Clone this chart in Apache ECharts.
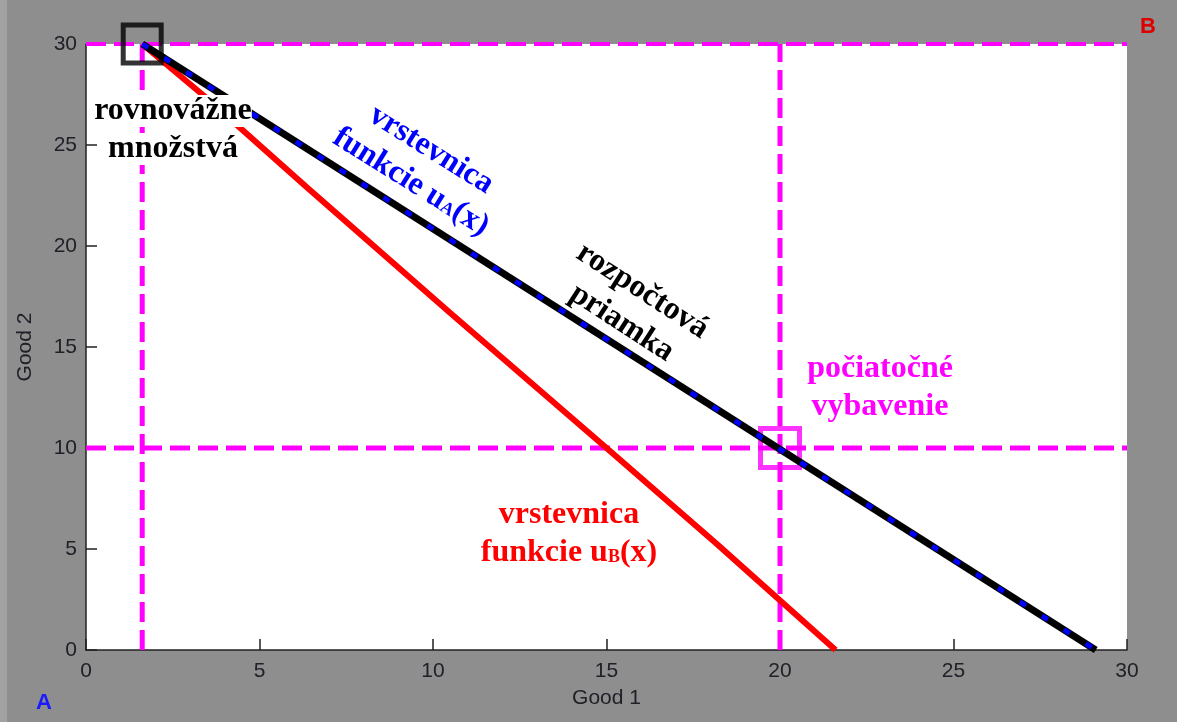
<!DOCTYPE html>
<html><head><meta charset="utf-8">
<script src="https://cdn.jsdelivr.net/npm/echarts@6/dist/echarts.min.js"></script>
<style>html,body{margin:0;padding:0;background:#8e8e8e;}#c{width:1177px;height:722px;}</style>
</head><body><div id="c"></div>
<script>
// ---- data ----
const axisMin = 0, axisMax = 30, axisStep = 5;
const budgetX = [1.62, 29.1];
const budgetY = [30, 0];
const indifA_X = [1.62, 29.1];
const indifA_Y = [30, 0];
const indifB_X = [1.62, 3.49, 6.37, 10.49, 15.0, 18.18, 21.6];
const indifB_Y = [30, 27.3, 22.9, 16.7, 10.0, 5.25, 0];
const equilibrium = [1.62, 30];
const endowment = [20, 10];

const zip = (xs, ys) => xs.map((x, i) => [x, ys[i]]);
const vline = (x) => [[x, axisMin], [x, axisMax]];
const hline = (y) => [[axisMin, y], [axisMax, y]];

const chart = echarts.init(document.getElementById('c'), null, {renderer: 'canvas'});
const tickFont = {fontFamily: '"Liberation Sans", Arial, sans-serif', fontSize: 21, color: '#202028'};
const magenta = '#ff00ff';
const dashMag = {color: magenta, width: 5, type: [20, 8]};
const serif = '"Liberation Serif", "Times New Roman", serif';
const FS = 32, LH = 38;

chart.setOption({
  backgroundColor: '#8e8e8e',
  animation: false,
  grid: {left: 86, right: 50, top: 44, bottom: 72, show: true, backgroundColor: '#ffffff', borderWidth: 0},
  xAxis: {
    type: 'value', min: axisMin, max: axisMax, interval: axisStep,
    name: 'Good 1', nameLocation: 'middle', nameGap: 38, nameTextStyle: tickFont,
    axisLine: {show: true, lineStyle: {color: '#222', width: 1.5}},
    axisTick: {show: true, inside: true, length: 11, lineStyle: {color: '#222', width: 1.5}},
    axisLabel: Object.assign({margin: 11}, tickFont),
    splitLine: {show: false}
  },
  yAxis: {
    type: 'value', min: axisMin, max: axisMax, interval: axisStep,
    name: 'Good 2', nameLocation: 'middle', nameGap: 50, nameTextStyle: tickFont,
    axisLine: {show: true, lineStyle: {color: '#222', width: 1.5}},
    axisTick: {show: true, inside: true, length: 11, lineStyle: {color: '#222', width: 1.5}},
    axisLabel: Object.assign({margin: 9}, tickFont),
    splitLine: {show: false}
  },
  series: [
    {type: 'line', data: vline(equilibrium[0]), symbol: 'none', lineStyle: dashMag, z: 2},
    {type: 'line', data: hline(equilibrium[1]), symbol: 'none', lineStyle: {color: magenta, width: 4, type: [20, 8]}, clip: false, z: 2},
    {type: 'line', data: vline(endowment[0]), symbol: 'none', lineStyle: dashMag, z: 2},
    {type: 'line', data: hline(endowment[1]), symbol: 'none', lineStyle: dashMag, z: 2},
    {type: 'scatter', data: [endowment], symbol: 'rect', symbolSize: 39, clip: false,
      itemStyle: {color: 'rgba(0,0,0,0)', borderColor: magenta, borderWidth: 5}, z: 3},
    {type: 'line', data: zip(indifB_X, indifB_Y), symbol: 'none', lineStyle: {color: '#ff0000', width: 6}, z: 4},
    {type: 'line', data: zip(budgetX, budgetY), symbol: 'none', lineStyle: {color: '#000000', width: 7}, z: 5},
    {type: 'line', data: zip(indifA_X, indifA_Y), symbol: 'none', lineStyle: {color: '#0000ff', width: 5, type: [7, 19]}, z: 6},
    {type: 'scatter', data: [equilibrium], symbol: 'rect', symbolSize: 38, clip: false,
      itemStyle: {color: 'rgba(0,0,0,0)', borderColor: '#000000', borderWidth: 5}, z: 7}
  ],
  graphic: [
    {type: 'rect', shape: {x: 0, y: 0, width: 7, height: 722}, style: {fill: '#a2a2a2'}, z: 0, silent: true},
    {type: 'text', x: 44, y: 703, style: {text: 'A', fill: '#1a1aff', font: 'bold 22px "Liberation Sans", Arial, sans-serif', align: 'center', verticalAlign: 'middle'}, z: 100},
    {type: 'text', x: 1148, y: 27, style: {text: 'B', fill: '#dd0000', font: 'bold 22px "Liberation Sans", Arial, sans-serif', align: 'center', verticalAlign: 'middle'}, z: 100},
    {type: 'text', x: 173, y: 130, z: 100, style: {
      text: '{a|rovnovážne}\n{a|množstvá}', align: 'center', verticalAlign: 'middle',
      rich: {a: {fill: '#000', fontFamily: serif, fontWeight: 'bold', fontSize: FS, lineHeight: LH, backgroundColor: '#ffffff'}}
    }},
    {type: 'text', x: 421, y: 166, rotation: -32 * Math.PI / 180, z: 100, style: {
      text: '{a|vrstevnica}\n{a|funkcie u}{s|A}{a|(x)}', align: 'center', verticalAlign: 'middle',
      rich: {a: {fill: '#0000ff', fontFamily: serif, fontWeight: 'bold', fontSize: FS, lineHeight: LH},
             s: {fill: '#0000ff', fontFamily: serif, fontWeight: 'bold', fontSize: 18, lineHeight: 22, padding: [0, 0, 6, 0], verticalAlign: 'bottom'}}
    }},
    {type: 'text', x: 632, y: 307, rotation: -33 * Math.PI / 180, z: 100, style: {
      text: '{a|rozpočtová}\n{a|priamka}', align: 'center', verticalAlign: 'middle',
      rich: {a: {fill: '#000', fontFamily: serif, fontWeight: 'bold', fontSize: FS, lineHeight: LH}}
    }},
    {type: 'text', x: 880, y: 388, z: 100, style: {
      text: '{a|počiatočné}\n{a|vybavenie}', align: 'center', verticalAlign: 'middle',
      rich: {a: {fill: magenta, fontFamily: serif, fontWeight: 'bold', fontSize: FS, lineHeight: LH}}
    }},
    {type: 'text', x: 569, y: 534, z: 100, style: {
      text: '{a|vrstevnica}\n{a|funkcie u}{s|B}{a|(x)}', align: 'center', verticalAlign: 'middle',
      rich: {a: {fill: '#ff0000', fontFamily: serif, fontWeight: 'bold', fontSize: FS, lineHeight: LH},
             s: {fill: '#ff0000', fontFamily: serif, fontWeight: 'bold', fontSize: 18, lineHeight: 22, padding: [0, 0, 6, 0], verticalAlign: 'bottom'}}
    }}
  ]
});
</script></body></html>
